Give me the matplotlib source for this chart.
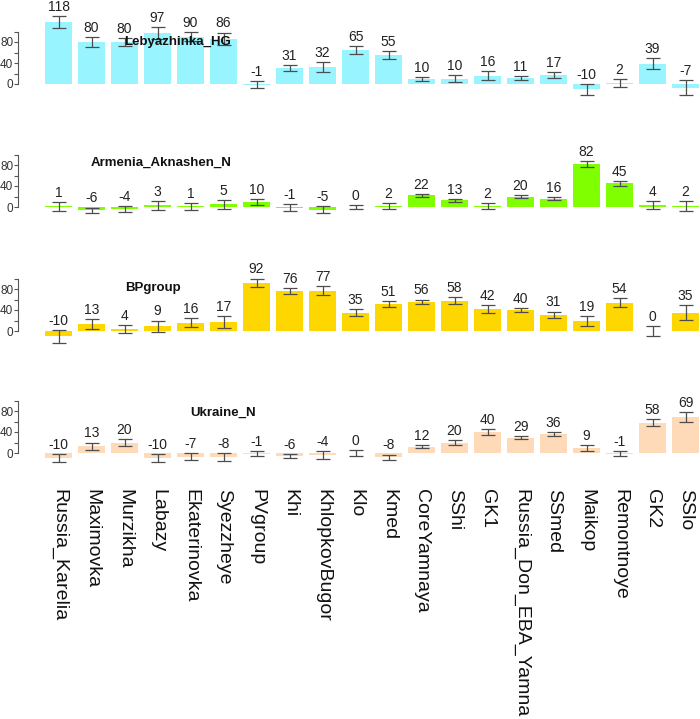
import numpy as np
import matplotlib
matplotlib.use('Agg')
import matplotlib.pyplot as plt

plt.rcParams['font.family'] = ['Liberation Sans', 'DejaVu Sans']

# populations on the x axis
pops = ['Russia_Karelia', 'Maximovka', 'Murzikha', 'Labazy', 'Ekaterinovka',
        'Syezzheye', 'PVgroup', 'Khi', 'KhlopkovBugor', 'Klo', 'Kmed',
        'CoreYamnaya', 'SShi', 'GK1', 'Russia_Don_EBA_Yamna', 'SSmed',
        'Maikop', 'Remontnoye', 'GK2', 'SSlo']

# source panels
sources = ['Lebyazhinka_HG', 'Armenia_Aknashen_N', 'BPgroup', 'Ukraine_N']
colors = ['#98F5FF', '#7FFF00', '#FFD700', '#FFDAB9']

leb_val = [118, 80, 80, 97, 90, 86, -1, 31, 32, 65, 55, 10, 10, 16, 11, 17, -10, 2, 39, -7]
leb_err = [12, 10, 8, 12, 9, 12, 7, 5.5, 10, 7, 7, 4, 7, 9, 4, 6.5, 10, 8, 10, 14]

arm_val = [1, -6, -4, 3, 1, 5, 10, -1, -5, 0, 2, 22, 13, 2, 20, 16, 82, 45, 4, 2]
arm_err = [8, 5, 5, 8, 6, 8, 6, 7, 6, 4, 5, 2.5, 3, 6, 2.5, 3, 6, 5, 7, 9]

bp_val = [-10, 13, 4, 9, 16, 17, 92, 76, 77, 35, 51, 56, 58, 42, 40, 31, 19, 54, 0, 35]
bp_err = [12, 9, 8, 11, 9, 12, 8, 5.5, 9, 6.5, 6, 4, 7, 8, 4, 6, 10, 9, 10, 14]

ukr_val = [-10, 13, 20, -10, -7, -8, -1, -6, -4, 0, -8, 12, 20, 40, 29, 36, 9, -1, 58, 69]
ukr_err = [8, 7, 6, 8, 6.5, 8, 5, 4, 7, 5, 5, 2.5, 4.5, 6, 2.5, 4.5, 6, 5.5, 7, 9]

values = [leb_val, arm_val, bp_val, ukr_val]
errors = [leb_err, arm_err, bp_err, ukr_err]

# where the panel name sits (bar index, y value)
title_pos = [(3.6, 80), (3.1, 84), (2.85, 82), (5.0, 76)]

W, H = 700, 719
fig = plt.figure(figsize=(W / 100, H / 100), dpi=100)

zero_px = [84, 207, 331, 453]   # baseline of each panel, px from top
scale = 42 / 80.0               # px per unit
ylo, yhi = -35, 135
x0_px, step_px = 58.5, 33.0
left_px = 18
xl = ((left_px - x0_px) / step_px, (W - x0_px) / step_px)

x = np.arange(len(pops))
for k in range(4):
    bottom_px = zero_px[k] - ylo * scale
    height_px = (yhi - ylo) * scale
    ax = fig.add_axes([left_px / W, 1 - bottom_px / H, (W - left_px) / W, height_px / H])
    ax.patch.set_alpha(0)
    v = np.array(values[k])
    e = np.array(errors[k])
    ax.bar(x, v, width=0.82, color=colors[k], edgecolor='none', zorder=1)
    ax.errorbar(x, v, yerr=e, fmt='none', ecolor='#4d4d4d', elinewidth=0.9,
                capsize=5, capthick=0.9, zorder=2)
    for xi, vi, ei in zip(x, v, e):
        ax.annotate('%d' % vi, (xi, vi + ei), xytext=(0, 1.5), textcoords='offset points',
                    ha='center', va='bottom', fontsize=10, color='#222222',
                    annotation_clip=False)
    tx, ty = title_pos[k]
    ax.text(tx, ty, sources[k], ha='center', va='center', fontsize=9.5,
            fontweight='bold', color='#111111', zorder=3)

    ax.set_xlim(*xl)
    ax.set_ylim(ylo, yhi)
    for s in ['top', 'right', 'bottom']:
        ax.spines[s].set_visible(False)
    ax.spines['left'].set_bounds(0, 100)
    ax.spines['left'].set_color('#555555')
    ax.spines['left'].set_linewidth(0.8)
    ax.set_yticks([0, 20, 40, 60, 80, 100])
    ax.set_yticklabels(['0', '', '40', '', '80', ''])
    ax.tick_params(axis='y', length=3, width=0.8, color='#555555', labelsize=8.5,
                   labelcolor='#333333', pad=0.5)
    if k == 3:
        ax.set_xticks(x)
        ax.set_xticklabels(pops, rotation=270, fontsize=14, color='#111111')
        ax.tick_params(axis='x', length=0, pad=13)
    else:
        ax.set_xticks([])

fig.savefig('out.png', dpi=100)
